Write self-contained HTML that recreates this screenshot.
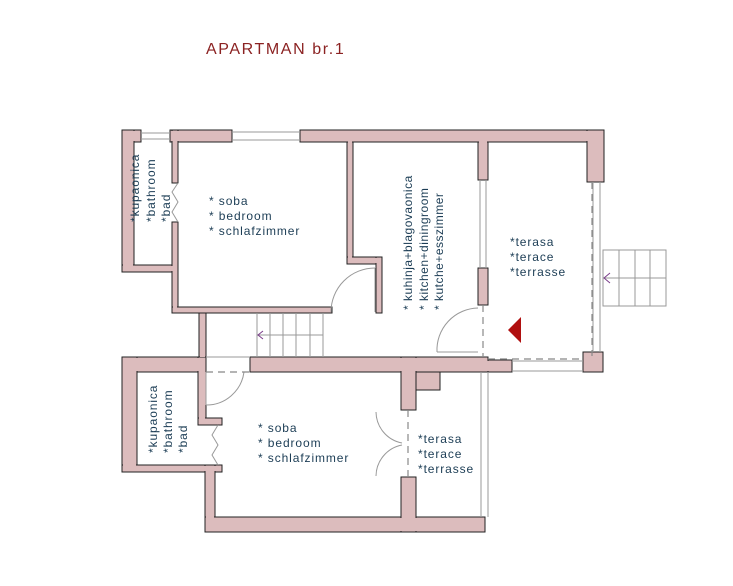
<!DOCTYPE html>
<html><head><meta charset="utf-8"><style>
html,body{margin:0;padding:0;background:#fff;}
svg{display:block;}
text{font-family:"Liberation Sans",sans-serif;}
</style></head><body>
<svg width="733" height="586" viewBox="0 0 733 586" xmlns="http://www.w3.org/2000/svg">
<rect width="733" height="586" fill="#fff"/>
<text x="206" y="54" font-size="16" fill="#8b2222" letter-spacing="1.6">APARTMAN br.1</text>

<g fill="#dcbcbd" stroke="#222" stroke-width="1">
<rect x="122" y="130" width="19" height="12"/>
<rect x="170" y="130" width="62" height="12"/>
<rect x="300" y="130" width="304" height="12"/>
<rect x="122" y="130" width="12" height="142"/>
<rect x="122" y="265" width="56" height="7"/>
<rect x="172" y="130" width="6" height="53"/>
<rect x="172" y="222" width="6" height="91"/>
<rect x="172" y="307" width="160" height="6"/>
<rect x="347" y="142" width="6" height="122"/>
<rect x="347" y="257" width="35" height="7"/>
<rect x="376" y="257" width="6" height="56"/>
<rect x="478" y="142" width="10" height="38"/>
<rect x="478" y="268" width="10" height="37"/>
<rect x="587" y="130" width="17" height="52"/>
<rect x="583" y="352" width="20" height="20"/>
<rect x="199" y="313" width="7" height="44"/>
<rect x="122" y="357" width="84" height="15"/>
<rect x="250" y="357" width="238" height="15"/>
<rect x="488" y="360" width="24" height="12"/>
<rect x="122" y="357" width="15" height="115"/>
<rect x="122" y="465" width="100" height="7"/>
<rect x="198" y="357" width="8" height="68"/>
<rect x="198" y="418" width="24" height="7"/>
<rect x="205" y="465" width="10" height="67"/>
<rect x="205" y="517" width="280" height="15"/>
<rect x="401" y="357" width="15" height="53"/>
<rect x="401" y="477" width="15" height="55"/>
<rect x="416" y="372" width="24" height="18"/>
</g>
<g fill="#dcbcbd">
<rect x="123" y="131" width="10" height="140"/>
<rect x="123" y="266" width="54" height="5"/>
<rect x="123" y="131" width="17" height="10"/>
<rect x="171" y="131" width="60" height="10"/>
<rect x="173" y="131" width="4" height="51"/>
<rect x="173" y="223" width="4" height="89"/>
<rect x="173" y="308" width="158" height="4"/>
<rect x="301" y="131" width="302" height="10"/>
<rect x="348" y="131" width="4" height="132"/>
<rect x="348" y="258" width="33" height="5"/>
<rect x="377" y="258" width="4" height="54"/>
<rect x="479" y="131" width="8" height="48"/>
<rect x="588" y="131" width="15" height="50"/>
<rect x="123" y="358" width="82" height="13"/>
<rect x="123" y="358" width="13" height="113"/>
<rect x="123" y="466" width="98" height="5"/>
<rect x="199" y="358" width="6" height="66"/>
<rect x="199" y="419" width="22" height="5"/>
<rect x="206" y="466" width="8" height="65"/>
<rect x="206" y="518" width="278" height="13"/>
<rect x="251" y="358" width="236" height="13"/>
<rect x="486" y="361" width="25" height="10"/>
<rect x="402" y="358" width="13" height="51"/>
<rect x="402" y="478" width="13" height="53"/>
<rect x="200" y="314" width="5" height="43"/>
</g>

<g fill="none" stroke="#999" stroke-width="1">
<line x1="141" y1="133" x2="170" y2="133"/><line x1="141" y1="139" x2="170" y2="139"/>
<line x1="232" y1="132" x2="300" y2="132"/><line x1="232" y1="140" x2="300" y2="140"/>
<line x1="480" y1="180" x2="480" y2="268"/><line x1="486" y1="180" x2="486" y2="268"/>
<line x1="512" y1="361" x2="583" y2="361"/><line x1="512" y1="371" x2="583" y2="371"/>
<line x1="593" y1="182" x2="593" y2="352"/><line x1="600" y1="182" x2="600" y2="352"/>
<line x1="481" y1="372" x2="481" y2="517"/><line x1="488" y1="372" x2="488" y2="517"/>
<line x1="257" y1="313" x2="257" y2="357"/><line x1="270" y1="313" x2="270" y2="357"/>
<line x1="283" y1="313" x2="283" y2="357"/><line x1="296" y1="313" x2="296" y2="357"/>
<line x1="310" y1="313" x2="310" y2="357"/><line x1="323" y1="313" x2="323" y2="357"/>
<line x1="257" y1="335" x2="323" y2="335"/>
<rect x="603" y="250" width="63" height="56"/>
<line x1="619" y1="250" x2="619" y2="306"/><line x1="635" y1="250" x2="635" y2="306"/>
<line x1="650" y1="250" x2="650" y2="306"/><line x1="603" y1="278" x2="666" y2="278"/>
<path d="M331 312 A44 44 0 0 1 375 268"/><line x1="375" y1="268" x2="375" y2="312"/>
<path d="M437 352 A42 42 0 0 1 478 308"/><line x1="437" y1="352" x2="478" y2="352"/>
<path d="M206 405 A38 38 0 0 0 244 372"/><line x1="206" y1="372" x2="206" y2="405"/>
<line x1="206" y1="357" x2="250" y2="357"/>
<path d="M376 412 A32 32 0 0 0 402 443"/><path d="M376 476 A32 32 0 0 1 402 445"/>
<polyline points="178,183 172,192 178,202 172,212 178,222"/>
<polyline points="218,425 212,435 218,445 212,455 218,465"/>
</g>
<g fill="none" stroke="#888" stroke-width="1.2" stroke-dasharray="7,5">
<line x1="592" y1="182" x2="592" y2="356"/>
<line x1="488" y1="359" x2="583" y2="359"/>
<line x1="483" y1="305" x2="483" y2="357"/>
<line x1="206" y1="372" x2="250" y2="372"/>
<line x1="408" y1="410" x2="408" y2="477"/>
</g>
<g stroke="#7a3c8a" fill="none"><polyline points="263,331 258,335 263,339"/><polyline points="610,273 604,278 610,283"/></g>
<polygon points="508,330 521,317 521,343" fill="#b01010"/>

<g fill="#1c3d55" font-size="12" letter-spacing="0.9">
<text x="209" y="205">* soba</text>
<text x="209" y="220">* bedroom</text>
<text x="209" y="235">* schlafzimmer</text>
<text x="258" y="432">* soba</text>
<text x="258" y="447">* bedroom</text>
<text x="258" y="462">* schlafzimmer</text>
<text x="510" y="246">*terasa</text>
<text x="510" y="261">*terace</text>
<text x="510" y="276">*terrasse</text>
<text x="418" y="443">*terasa</text>
<text x="418" y="458">*terace</text>
<text x="418" y="473">*terrasse</text>
<text transform="translate(139,222) rotate(-90)">*kupaonica</text>
<text transform="translate(155,222) rotate(-90)">*bathroom</text>
<text transform="translate(170,222) rotate(-90)">*bad</text>
<text transform="translate(157,453) rotate(-90)">*kupaonica</text>
<text transform="translate(172,453) rotate(-90)">*bathroom</text>
<text transform="translate(187,453) rotate(-90)">*bad</text>
</g>
<g fill="#1c3d55" font-size="12" letter-spacing="0.5">
<text transform="translate(412,310) rotate(-90)">* kuhinja+blagovaonica</text>
<text transform="translate(428,310) rotate(-90)">* kitchen+diningroom</text>
<text transform="translate(443,310) rotate(-90)">* kutche+esszimmer</text>
</g>
</svg>
</body></html>
